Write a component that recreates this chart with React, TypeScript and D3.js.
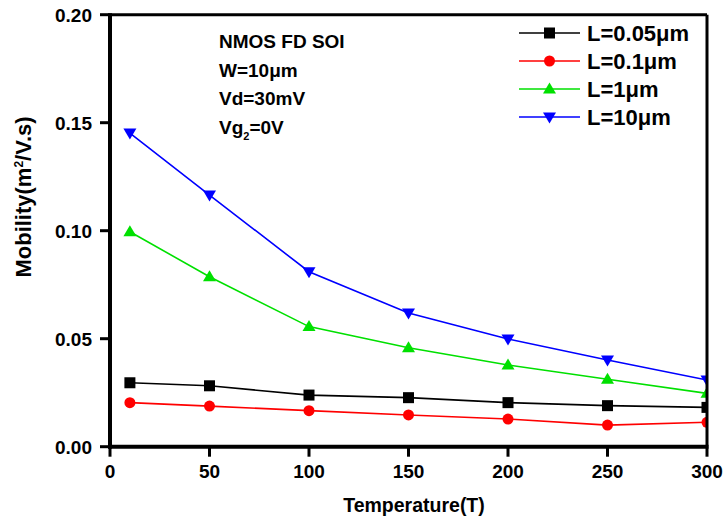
import React from "react";
import * as d3 from "d3";

const temps = [10, 50, 100, 150, 200, 250, 300];
const l005 = [0.0296, 0.0282, 0.0239, 0.0227, 0.0204, 0.019, 0.0182];
const l01 = [0.0204, 0.0188, 0.0167, 0.0147, 0.0128, 0.01, 0.0113];
const l1 = [0.0995, 0.0787, 0.0556, 0.0458, 0.0378, 0.0312, 0.0247];
const l10 = [0.1452, 0.1165, 0.081, 0.0619, 0.0499, 0.0401, 0.0309];
const seriesNames = ["L=0.05μm", "L=0.1μm", "L=1μm", "L=10μm"];
const seriesColors = ["#000000", "#ff0000", "#00e000", "#0000ff"];
const seriesShapes = ["square", "circle", "up", "down"];
const xTicks = [0, 50, 100, 150, 200, 250, 300];
const yTicks = [0, 0.05, 0.1, 0.15, 0.2];
const notes = ["NMOS FD SOI", "W=10μm", "Vd=30mV"];

const W = 723, H = 523;
const x = d3.scaleLinear().domain([0, 300]).range([110, 707]);
const y = d3.scaleLinear().domain([0, 0.2]).range([446.7, 14.7]);
const font = "'Liberation Sans', Arial, sans-serif";

function Marker({ shape, cx, cy, color }: { shape: string; cx: number; cy: number; color: string }) {
  const s = 5.5;
  if (shape === "square") return <rect x={cx - s} y={cy - s} width={2 * s} height={2 * s} fill={color} />;
  if (shape === "circle") return <circle cx={cx} cy={cy} r={s} fill={color} />;
  if (shape === "up")
    return <path d={`M${cx},${cy - s - 1} L${cx + s + 1},${cy + s - 1} L${cx - s - 1},${cy + s - 1} Z`} fill={color} />;
  return <path d={`M${cx},${cy + s + 1} L${cx + s + 1},${cy - s + 1} L${cx - s - 1},${cy - s + 1} Z`} fill={color} />;
}

export default function App() {
  const data = [l005, l01, l1, l10];
  const line = d3
    .line<number>()
    .x((_, i) => x(temps[i]))
    .y((v) => y(v));
  return (
    <svg width={W} height={H} style={{ position: "absolute", left: 0, top: 0, background: "#fff" }} fontFamily={font}>
      <defs>
        <clipPath id="clip">
          <rect x={x(0)} y={y(0.2)} width={x(300) - x(0)} height={y(0) - y(0.2)} />
        </clipPath>
      </defs>
      <g clipPath="url(#clip)">
        {data.map((vals, si) => (
          <g key={si}>
            <path d={line(vals) || ""} fill="none" stroke={seriesColors[si]} strokeWidth={1.6} />
            {vals.map((v, i) => (
              <Marker key={i} shape={seriesShapes[si]} cx={x(temps[i])} cy={y(v)} color={seriesColors[si]} />
            ))}
          </g>
        ))}
      </g>
      <line x1={x(0)} x2={x(300)} y1={y(0.2)} y2={y(0.2)} stroke="#000" strokeWidth={3} />
      <line x1={x(300)} x2={x(300)} y1={y(0.2)} y2={y(0)} stroke="#000" strokeWidth={3} />
      <line x1={x(0)} x2={x(0)} y1={y(0.2) - 1.5} y2={y(0) + 2} stroke="#000" strokeWidth={4} />
      <line x1={x(0) - 2} x2={x(300) + 1.5} y1={y(0)} y2={y(0)} stroke="#000" strokeWidth={4} />
      {yTicks.map((t) => (
        <g key={t}>
          <line x1={x(0) - 10} x2={x(0)} y1={y(t)} y2={y(t)} stroke="#000" strokeWidth={3} />
          <text x={x(0) - 18} y={y(t)} dy="0.36em" textAnchor="end" fontSize={19} fontWeight="bold">
            {t.toFixed(2)}
          </text>
        </g>
      ))}
      {xTicks.map((t) => (
        <g key={t}>
          <line x1={x(t)} x2={x(t)} y1={y(0)} y2={y(0) + 10} stroke="#000" strokeWidth={3} />
          <text x={x(t)} y={y(0) + 31} textAnchor="middle" fontSize={19} fontWeight="bold">
            {t}
          </text>
        </g>
      ))}
      <text x={414} y={512} textAnchor="middle" fontSize={19.5} fontWeight="bold">
        Temperature(T)
      </text>
      <text transform={`translate(31,197) rotate(-90)`} textAnchor="middle" fontSize={22} fontWeight="bold">
        Mobility(m<tspan dy={-8} fontSize={12}>2</tspan>
        <tspan dy={8}>/V.s)</tspan>
      </text>
      {notes.map((n, i) => (
        <text key={n} x={219} y={48 + i * 28.5} fontSize={19} fontWeight="bold">
          {n}
        </text>
      ))}
      <text x={219} y={48 + 3 * 28.5} fontSize={19} fontWeight="bold">
        Vg<tspan dy={6} fontSize={11}>2</tspan>
        <tspan dy={-6}>=0V</tspan>
      </text>
      {seriesNames.map((n, i) => {
        const ly = 33 + i * 28;
        return (
          <g key={n}>
            <line x1={519} x2={580} y1={ly} y2={ly} stroke={seriesColors[i]} strokeWidth={1.6} />
            <Marker shape={seriesShapes[i]} cx={549.5} cy={ly} color={seriesColors[i]} />
            <text x={587} y={ly} dy="0.36em" fontSize={22} fontWeight="bold">
              {n}
            </text>
          </g>
        );
      })}
    </svg>
  );
}
